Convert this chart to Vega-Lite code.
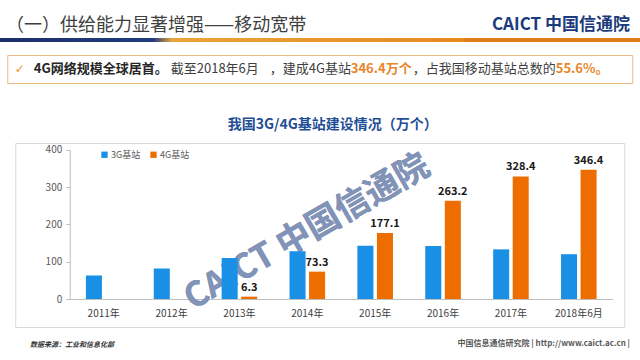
{
  "$schema": "https://vega.github.io/schema/vega-lite/v6.json",
  "background": "#FFFFFF",
  "padding": {"top": 16, "left": 0, "right": 0, "bottom": 0},
  "spacing": 12,
  "center": true,
  "config": {
    "font": "Noto Sans CJK SC",
    "view": {"stroke": null},
    "title": {"font": "Noto Sans CJK SC"}
  },
  "vconcat": [
    {
      "spacing": 0,
      "bounds": "flush",
      "hconcat": [
        {
          "width": 465,
          "height": 4,
          "data": {"values": [{}]},
          "title": {"text": "（一）供给能力显著增强——移动宽带", "anchor": "start", "fontSize": 18, "fontWeight": "normal", "color": "#3F3F3F", "offset": 6, "dx": 6, "dy": 3},
          "mark": {"type": "rect", "color": {"gradient": "linear", "x1": 0, "x2": 1, "y1": 0, "y2": 0, "stops": [{"offset": 0, "color": "#1B2F6A"}, {"offset": 0.33, "color": "#203C7C"}, {"offset": 0.37, "color": "#E9A43C"}, {"offset": 1, "color": "#E6891F"}]}},
          "encoding": {}
        },
        {
          "width": 175,
          "height": 4,
          "data": {"values": [{}]},
          "title": {"text": "CAICT 中国信通院", "anchor": "end", "fontSize": 17, "fontWeight": "bold", "color": "#1C3B7C", "offset": 7, "dx": -10, "dy": 3},
          "mark": {"type": "rect", "color": "#E17C1C"},
          "encoding": {}
        }
      ]
    },
    {
      "width": 625,
      "height": 28,
      "view": {"stroke": "#EDBB85", "strokeWidth": 1, "fill": "#FFFFFF"},
      "data": {"values": [{}]},
      "layer": [
        {"mark": {"type": "text", "text": "✓", "x": 7.5, "y": 14, "align": "left", "baseline": "middle", "fontSize": 12, "color": "#E8912C", "font": "DejaVu Sans"}, "encoding": {}},
        {"mark": {"type": "text", "text": "4G网络规模全球居首。", "x": 26.5, "y": 14, "align": "left", "baseline": "middle", "fontSize": 13, "fontWeight": "bold", "color": "#262626"}, "encoding": {}},
        {"mark": {"type": "text", "text": "截至2018年6月", "x": 163.5, "y": 14, "align": "left", "baseline": "middle", "fontSize": 13, "color": "#404040"}, "encoding": {}},
        {"mark": {"type": "text", "text": "，建成4G基站", "x": 262.5, "y": 14, "align": "left", "baseline": "middle", "fontSize": 13, "color": "#404040"}, "encoding": {}},
        {"mark": {"type": "text", "text": "346.4万个", "x": 343.5, "y": 14, "align": "left", "baseline": "middle", "fontSize": 13, "fontWeight": "bold", "color": "#E8862A"}, "encoding": {}},
        {"mark": {"type": "text", "text": "，占我国移动基站总数的", "x": 405.5, "y": 14, "align": "left", "baseline": "middle", "fontSize": 13, "color": "#404040"}, "encoding": {}},
        {"mark": {"type": "text", "text": "55.6%。", "x": 548.5, "y": 14, "align": "left", "baseline": "middle", "fontSize": 13, "fontWeight": "bold", "color": "#E8862A"}, "encoding": {}}
      ]
    },
    {
      "width": 609,
      "height": 184,
      "view": {"stroke": "#D9D9D9", "strokeWidth": 1, "fill": "#FFFFFF"},
      "title": {"text": [" ", "我国3G/4G基站建设情况（万个）"], "lineHeight": 21, "fontSize": 14, "fontWeight": "bold", "color": "#1F4E96", "anchor": "middle", "offset": 11, "dx": 13},
      "data": {"values": [
        {"year": "2011年", "series": "3G基站", "value": 63},
        {"year": "2012年", "series": "3G基站", "value": 82},
        {"year": "2013年", "series": "3G基站", "value": 110},
        {"year": "2013年", "series": "4G基站", "value": 6.3},
        {"year": "2014年", "series": "3G基站", "value": 128},
        {"year": "2014年", "series": "4G基站", "value": 73.3},
        {"year": "2015年", "series": "3G基站", "value": 143},
        {"year": "2015年", "series": "4G基站", "value": 177.1},
        {"year": "2016年", "series": "3G基站", "value": 142},
        {"year": "2016年", "series": "4G基站", "value": 263.2},
        {"year": "2017年", "series": "3G基站", "value": 133},
        {"year": "2017年", "series": "4G基站", "value": 328.4},
        {"year": "2018年6月", "series": "3G基站", "value": 120},
        {"year": "2018年6月", "series": "4G基站", "value": 346.4}
      ]},
      "encoding": {
        "x": {
          "field": "year", "type": "nominal",
          "scale": {"range": [54.5, 597.5], "paddingInner": 0.476, "paddingOuter": 0.238},
          "axis": {"offset": -28, "domainColor": "#BFBFBF", "ticks": false, "labelFontSize": 10, "labelColor": "#404040", "labelPadding": 9, "labelAngle": 0, "title": null}
        },
        "y": {
          "field": "value", "type": "quantitative",
          "scale": {"domain": [0, 400], "range": [156, 6.7], "nice": false},
          "axis": {"values": [0, 100, 200, 300, 400], "offset": -54.5, "grid": false, "domainColor": "#BFBFBF", "tickColor": "#BFBFBF", "tickSize": 4, "labelFontSize": 10, "labelColor": "#595959", "labelPadding": 4, "title": null}
        }
      },
      "layer": [
        {
          "mark": {"type": "text", "text": "CAICT 中国信通院", "angle": -30, "fontSize": 34, "fontWeight": "bold", "color": "#7F93B8", "opacity": 0.22},
          "encoding": {"x": {"datum": "2014年"}, "y": {"datum": 178}}
        },
        {
          "mark": {"type": "bar"},
          "encoding": {
            "xOffset": {"field": "series", "scale": {"domain": ["3G基站", "4G基站"], "paddingInner": 0.18}},
            "color": {
              "field": "series", "type": "nominal",
              "scale": {"domain": ["3G基站", "4G基站"], "range": ["#1990E6", "#EE6D00"]},
              "legend": {"orient": "none", "legendX": 100, "legendY": 112, "direction": "horizontal", "title": null, "symbolType": "square", "symbolSize": 40, "symbolStrokeWidth": 0, "labelFontSize": 9, "labelColor": "#595959", "columnPadding": 8, "labelOffset": 2}
            }
          }
        },
        {
          "transform": [{"filter": "datum.series === '4G基站'"}],
          "mark": {"type": "text", "baseline": "bottom", "dy": -4, "fontSize": 11, "fontWeight": "bold", "color": "#1A1A1A"},
          "encoding": {
            "xOffset": {"field": "series", "scale": {"domain": ["3G基站", "4G基站"], "paddingInner": 0.18}},
            "text": {"field": "value", "type": "quantitative", "format": ".1f"}
          }
        }
      ]
    },
    {
      "spacing": 0,
      "bounds": "flush",
      "hconcat": [
        {
          "width": 320, "height": 2,
          "data": {"values": [{}]},
          "title": {"text": "数据来源：工业和信息化部", "anchor": "start", "fontSize": 7, "fontStyle": "italic", "fontWeight": "bold", "color": "#333333", "dx": 30, "offset": 0},
          "mark": {"type": "rect", "opacity": 0},
          "encoding": {}
        },
        {
          "width": 320, "height": 2,
          "data": {"values": [{}]},
          "title": {"text": "中国信息通信研究院  |  http://www.caict.ac.cn  |", "anchor": "end", "fontSize": 8, "color": "#595959", "dx": -10, "offset": 0},
          "mark": {"type": "rect", "opacity": 0},
          "encoding": {}
        }
      ]
    }
  ]
}
